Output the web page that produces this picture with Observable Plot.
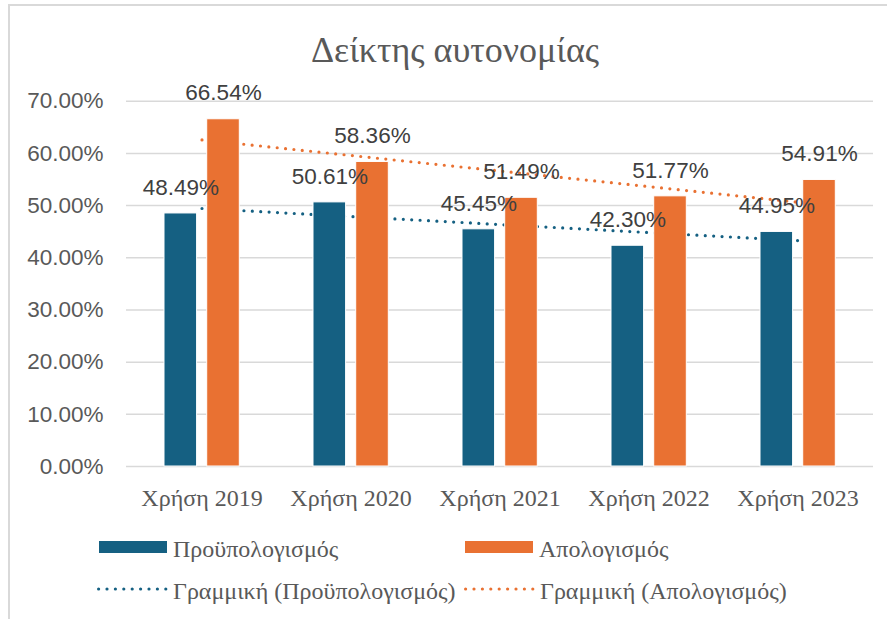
<!DOCTYPE html>
<html>
<head>
<meta charset="utf-8">
<script src="https://cdn.jsdelivr.net/npm/d3@7"></script>
<script src="https://cdn.jsdelivr.net/npm/@observablehq/plot@0.6"></script>
<style>
  html, body { margin: 0; padding: 0; background: #fff; overflow: hidden; }
  #wrap { position: relative; width: 887px; height: 619px; overflow: hidden; }
  #frame { position: absolute; left: 8px; top: 4px; width: 1000px; height: 700px;
           border-top: 2px solid #d9d9d9; border-left: 2px solid #d9d9d9; box-sizing: border-box; }
  #title { position: absolute; left: 0; width: 910px; top: 32px; text-align: center;
           font-family: "Liberation Serif", "Times New Roman", serif; font-size: 36px; line-height: 36px; color: #595959; }
  #chart { position: absolute; left: 0; top: 0; }
  .lg { position: absolute; font-family: "Liberation Serif", "Times New Roman", serif; font-size: 24px;
        line-height: 24px; color: #595959; white-space: nowrap; }
  .sw { position: absolute; }
</style>
</head>
<body>
<div id="wrap">
  <div id="frame"></div>
  <div id="chart"></div>
  <div id="title"></div>
  <div id="legend"></div>
</div>
<script>
// ---- data ----
const years = ["Χρήση 2019", "Χρήση 2020", "Χρήση 2021", "Χρήση 2022", "Χρήση 2023"];
const budget = [0.4849, 0.5061, 0.4545, 0.4230, 0.4495];   // Προϋπολογισμός
const actual = [0.6654, 0.5836, 0.5149, 0.5177, 0.5491];   // Απολογισμός
const yTicks = [0, 0.1, 0.2, 0.3, 0.4, 0.5, 0.6, 0.7];
const seriesNames = ["Προϋπολογισμός", "Απολογισμός"];
const trendNames = ["Γραμμική (Προϋπολογισμός)", "Γραμμική (Απολογισμός)"];
const titleText = "Δείκτης αυτονομίας";
const colors = ["#156082", "#E97132"];

// linear trend (least squares over category index), as Excel does
function trend(vals) {
  const xs = vals.map((_, i) => i + 1);
  const mx = d3.mean(xs), my = d3.mean(vals);
  const slope = d3.sum(xs, (x, i) => (x - mx) * (vals[i] - my)) / d3.sum(xs, x => (x - mx) ** 2);
  return xs.map((x, i) => ({year: years[i], value: my + slope * (x - mx)}));
}
const budgetRows = years.map((y, i) => ({year: y, value: budget[i]}));
const actualRows = years.map((y, i) => ({year: y, value: actual[i]}));
const trendBudget = trend(budget);
const trendActual = trend(actual);

const sans = "'Liberation Sans', Arial, sans-serif";
const serif = "'Liberation Serif', 'Times New Roman', serif";
const pct = d3.format(".2%");
const dots = {strokeWidth: 3.2, strokeDasharray: "0 8.4", strokeLinecap: "round"};

const chart = Plot.plot({
  width: 887,
  height: 520,
  marginLeft: 126,
  marginRight: 14,
  marginTop: 100.7,
  marginBottom: 54,
  x: {domain: years, padding: 0, axis: null},
  y: {domain: [0, 0.7], axis: null},
  style: {fontFamily: sans, background: "transparent", overflow: "visible"},
  marks: [
    Plot.gridY(yTicks, {stroke: "#d9d9d9", strokeOpacity: 1, strokeWidth: 1.5}),
    Plot.axisY(yTicks, {tickSize: 0, tickPadding: 23, tickFormat: pct, fontSize: 22.5, fill: "#595959", fontFamily: sans, label: null}),
    Plot.axisX({tickSize: 0, tickPadding: 22, fontSize: 24, fill: "#595959", fontFamily: serif, label: null}),
    Plot.lineY(trendBudget, {x: "year", y: "value", stroke: colors[0], ...dots}),
    Plot.lineY(trendActual, {x: "year", y: "value", stroke: colors[1], ...dots}),
    Plot.barY(budgetRows, {x: "year", y: "value", fill: colors[0], stroke: "white", strokeWidth: 1, insetLeft: 37, insetRight: 79.4}),
    Plot.barY(actualRows, {x: "year", y: "value", fill: colors[1], stroke: "white", strokeWidth: 1, insetLeft: 79.7, insetRight: 36.7}),
    Plot.text(budgetRows, {x: "year", y: "value", text: d => pct(d.value), dx: -21.2, dy: -26, fontSize: 22.5, fill: "#404040", fontFamily: sans}),
    Plot.text(actualRows, {x: "year", y: "value", text: d => pct(d.value), dx: 21.5, dy: -26, fontSize: 22.5, fill: "#404040", fontFamily: sans})
  ]
});
document.getElementById("chart").appendChild(chart);
document.getElementById("title").textContent = titleText;

// legend
const legend = document.getElementById("legend");
const items = [
  {kind: "bar", color: colors[0], label: seriesNames[0], x: 99, y: 541},
  {kind: "bar", color: colors[1], label: seriesNames[1], x: 465, y: 541},
  {kind: "dot", color: colors[0], label: trendNames[0], x: 97, y: 583},
  {kind: "dot", color: colors[1], label: trendNames[1], x: 464, y: 583}
];
for (const it of items) {
  const s = document.createElementNS("http://www.w3.org/2000/svg", "svg");
  s.setAttribute("class", "sw");
  s.setAttribute("width", 72);
  s.setAttribute("height", 12);
  s.style.left = it.x + "px";
  s.style.top = it.y + "px";
  if (it.kind === "bar") {
    s.innerHTML = `<rect x="0" y="0" width="68" height="12" fill="${it.color}"/>`;
  } else {
    s.innerHTML = `<line x1="1.6" x2="69" y1="6" y2="6" stroke="${it.color}" stroke-width="3.2" stroke-dasharray="0 8.4" stroke-linecap="round"/>`;
  }
  legend.appendChild(s);
  const t = document.createElement("div");
  t.className = "lg";
  t.textContent = it.label;
  t.style.left = (it.x + (it.kind === "bar" ? 74 : 76)) + "px";
  t.style.top = (it.y - 4) + "px";
  legend.appendChild(t);
}
</script>
</body>
</html>
